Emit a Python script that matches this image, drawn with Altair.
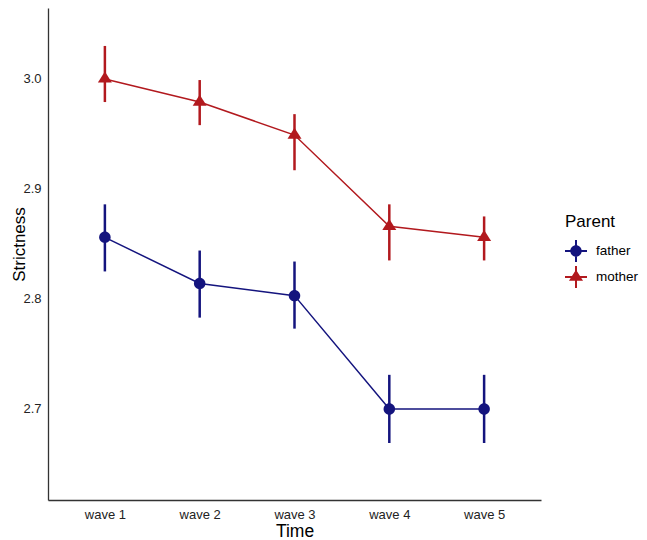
import altair as alt
import pandas as pd

waves = ["wave 1", "wave 2", "wave 3", "wave 4", "wave 5"]
parents = ["father", "mother"]
father_mean = [2.856, 2.814, 2.803, 2.700, 2.700]
father_lo = [2.825, 2.783, 2.773, 2.669, 2.669]
father_hi = [2.886, 2.844, 2.834, 2.731, 2.731]
mother_mean = [3.000, 2.979, 2.949, 2.866, 2.856]
mother_lo = [2.979, 2.958, 2.917, 2.835, 2.835]
mother_hi = [3.030, 2.999, 2.968, 2.886, 2.875]
y_ticks = [2.7, 2.8, 2.9, 3.0]
colors = ["#14147E", "#B2191E"]

rows = []
for i, w in enumerate(waves):
    rows.append({"Time": w, "Parent": "father", "mean": father_mean[i], "lo": father_lo[i], "hi": father_hi[i]})
    rows.append({"Time": w, "Parent": "mother", "mean": mother_mean[i], "lo": mother_lo[i], "hi": mother_hi[i]})
df = pd.DataFrame(rows)

FONT = "Liberation Sans"

circle_path = "M0.82,0A0.82,0.82 0 1,1 -0.82,0A0.82,0.82 0 1,1 0.82,0Z"
tri_path = "M0,-1.05L1,0.52L-1,0.52Z"
cross = "M-1,-0.09L1,-0.09L1,0.09L-1,0.09Z M-0.09,-1L0.09,-1L0.09,1L-0.09,1Z "
leg_father = cross + "M0.52,0A0.52,0.52 0 1,1 -0.52,0A0.52,0.52 0 1,1 0.52,0Z"
leg_mother = cross + "M0,-0.67L0.64,0.33L-0.64,0.33Z"

x_enc = alt.X(
    "Time:N", sort=waves, title="Time",
    scale=alt.Scale(type="point", padding=0.6),
    axis=alt.Axis(labelAngle=0, labelPadding=8, titlePadding=1, labelFontSize=13,
                  titleFontSize=17.5, titleFontWeight="normal"),
)
y_scale = alt.Scale(domain=[2.6172, 3.0645], nice=False, zero=False)
y_axis = alt.Axis(values=y_ticks, format=".1f", labelPadding=7, labelFontSize=13,
                  titleFontSize=17, titleFontWeight="normal", titleAngle=270,
                  titleBaseline="alphabetic", titleX=-24, titleY=236)


def cscale():
    return alt.Scale(domain=parents, range=colors)


base = alt.Chart(df)

lines = base.mark_line(strokeWidth=1.5).encode(
    x=x_enc,
    y=alt.Y("mean:Q", scale=y_scale, axis=y_axis, title="Strictness"),
    color=alt.Color("Parent:N", scale=cscale(), legend=None),
)

bars = base.mark_rule(strokeWidth=2.5).encode(
    x=x_enc,
    y=alt.Y("lo:Q", scale=y_scale, axis=y_axis, title="Strictness"),
    y2="hi:Q",
    color=alt.Color("Parent:N", scale=cscale(), legend=None),
)

points = base.mark_point(filled=True, opacity=1, size=196).encode(
    x=x_enc,
    y=alt.Y("mean:Q", scale=y_scale, axis=y_axis, title="Strictness"),
    color=alt.Color("Parent:N", scale=cscale(), legend=None),
    shape=alt.Shape("Parent:N", scale=alt.Scale(domain=parents, range=[circle_path, tri_path]), legend=None),
)

leg = alt.Legend(
    title="Parent", orient="none", legendX=517, legendY=206, padding=0,
    titleFontSize=17, titleFontWeight="normal", titleColor="black", titlePadding=9,
    labelFontSize=13.5, labelColor="black", labelOffset=9, rowPadding=4,
    symbolSize=484, symbolStrokeWidth=0, titleFont=FONT, labelFont=FONT,
)

legend_layer = base.transform_filter("datum.mean < 0").mark_point(filled=True, opacity=1).encode(
    x=x_enc,
    y=alt.Y("mean:Q", scale=y_scale, axis=y_axis, title="Strictness"),
    color=alt.Color("Parent:N", scale=cscale(), legend=leg),
    shape=alt.Shape("Parent:N", scale=alt.Scale(domain=parents, range=[leg_father, leg_mother]), legend=leg),
)

chart = alt.layer(lines, bars, points, legend_layer).resolve_scale(
    color="independent", shape="independent"
).properties(
    width=493, height=492,
    autosize=alt.AutoSizeParams(type="none"),
    padding={"left": 40, "top": 0, "right": 98, "bottom": 40},
).configure_view(stroke=None).configure_axis(
    grid=False, ticks=False, domainColor="#333333", domainWidth=1.3,
    labelColor="#222222", titleColor="black", labelFont=FONT, titleFont=FONT,
)

chart.save("out.html", embed_options={"renderer": "svg", "actions": False})
